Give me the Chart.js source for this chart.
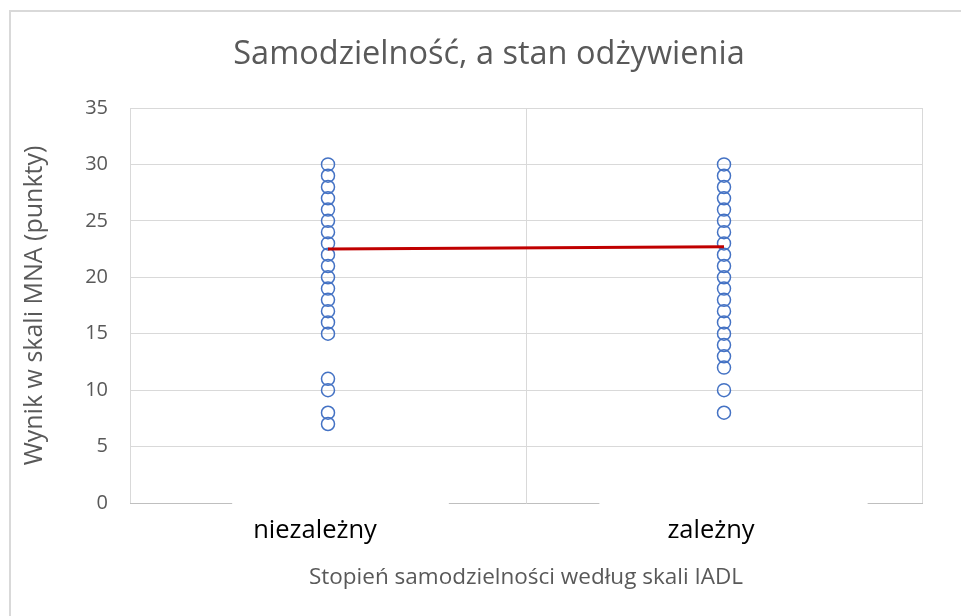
<!DOCTYPE html>
<html>
<head>
<meta charset="utf-8">
<script src="https://cdn.jsdelivr.net/npm/chart.js"></script>
<style>
    html, body { margin: 0; background: #fff; overflow: hidden; }
    #frame {
        position: absolute; left: 9px; top: 10px;
        width: 958px; height: 606px;
        border-top: 2px solid #d9d9d9; border-left: 2px solid #d9d9d9;
    }
    canvas { display: block; }
</style>
</head>
<body>
<div id="frame"><canvas id="chart" width="956" height="604"></canvas></div>
<script>
// Categories on the x axis (IADL groups)
const categories = ['niezależny', 'zależny'];

// MNA scores, per group
const independentScores = [30, 29, 28, 27, 26, 25, 24, 23, 22, 21, 20, 19, 18, 17, 16, 15, 11, 10, 8, 7];
const dependentScores = [30, 29, 28, 27, 26, 25, 24, 23, 22, 21, 20, 19, 18, 17, 16, 15, 14, 13, 12, 10, 8];

// Group means (red line)
const meanScores = [22.5, 22.7];

// Y axis ticks
const yTicks = [0, 5, 10, 15, 20, 25, 30, 35];

const FONT = "'Open Sans', sans-serif";
const GREY = '#595959';
const GRID = '#d9d9d9';
const X_LABEL_SIZE = 25.5;

const scatterPoints = [
    ...independentScores.map(v => ({ x: categories[0], y: v })),
    ...dependentScores.map(v => ({ x: categories[1], y: v }))
];

// Excel leaves white gaps in the category axis line around the labels
const axisGaps = {
    id: 'axisGaps',
    afterDraw(chart) {
        const scale = chart.scales.x;
        const ctx = chart.ctx;
        const pads = [[21, 72], [68, 113]];
        ctx.save();
        ctx.font = X_LABEL_SIZE + "px 'Open Sans'";
        ctx.fillStyle = '#fff';
        scale.ticks.forEach((t, i) => {
            const w = ctx.measureText(categories[i]).width;
            const cx = scale.getPixelForTick(i) + scale.options.ticks.labelOffset;
            const x0 = cx - w / 2 - pads[i][0];
            const x1 = cx + w / 2 + pads[i][1];
            ctx.fillRect(x0, scale.top - 2, x1 - x0, 4);
        });
        ctx.restore();
    }
};

new Chart(document.getElementById('chart'), {
    type: 'line',
    data: {
        labels: categories,
        datasets: [
            {
                label: 'Średnia',
                data: meanScores,
                borderColor: '#C00000',
                borderWidth: 3,
                pointRadius: 0,
                fill: false
            },
            {
                label: 'Wynik MNA',
                data: scatterPoints,
                showLine: false,
                pointStyle: 'circle',
                pointRadius: 6.5,
                pointBorderWidth: 1.5,
                pointBorderColor: '#4472C4',
                pointBackgroundColor: 'rgba(0,0,0,0)'
            }
        ]
    },
    plugins: [axisGaps],
    options: {
        responsive: false,
        animation: false,
        layout: { padding: 0 },
        plugins: {
            legend: { display: false },
            tooltip: { enabled: false },
            title: {
                display: true,
                text: 'Samodzielność, a stan odżywienia',
                color: GREY,
                font: { family: FONT, size: 32.5, weight: 'normal', lineHeight: 1.2 },
                padding: { top: 23.5, bottom: 33.5 }
            }
        },
        scales: {
            x: {
                type: 'category',
                offset: true,
                afterFit: (scale) => { scale.height = 113; },
                grid: { color: GRID, drawTicks: false, offset: true },
                border: { display: true, color: '#bfbfbf', width: 1 },
                ticks: {
                    color: '#000',
                    font: { family: FONT, size: X_LABEL_SIZE },
                    padding: 12.5,
                    labelOffset: -13
                },
                title: {
                    display: true,
                    text: 'Stopień samodzielności według skali IADL',
                    color: GREY,
                    font: { family: FONT, size: 22.5 },
                    padding: { top: 0, bottom: 24.5 }
                }
            },
            y: {
                min: yTicks[0],
                max: yTicks[yTicks.length - 1],
                afterFit: (scale) => { scale.width = 119; },
                afterBuildTicks: (scale) => { scale.ticks = yTicks.map(v => ({ value: v })); },
                grid: {
                    drawTicks: false,
                    color: (ctx) => ctx.tick && ctx.tick.value === 0 ? 'rgba(0,0,0,0)' : GRID
                },
                border: { display: false },
                ticks: {
                    color: GREY,
                    font: { family: FONT, size: 20 },
                    padding: 22
                },
                title: {
                    display: true,
                    text: 'Wynik w skali MNA (punkty)',
                    color: GREY,
                    font: { family: FONT, size: 25 },
                    padding: { top: 9, bottom: 0 }
                }
            },
            // empty right axis only to reserve the right margin of the plot
            yRight: {
                position: 'right',
                display: true,
                afterFit: (scale) => { scale.width = 45; },
                grid: { display: false },
                border: { display: false },
                ticks: { display: false }
            }
        }
    }
});
</script>
</body>
</html>
